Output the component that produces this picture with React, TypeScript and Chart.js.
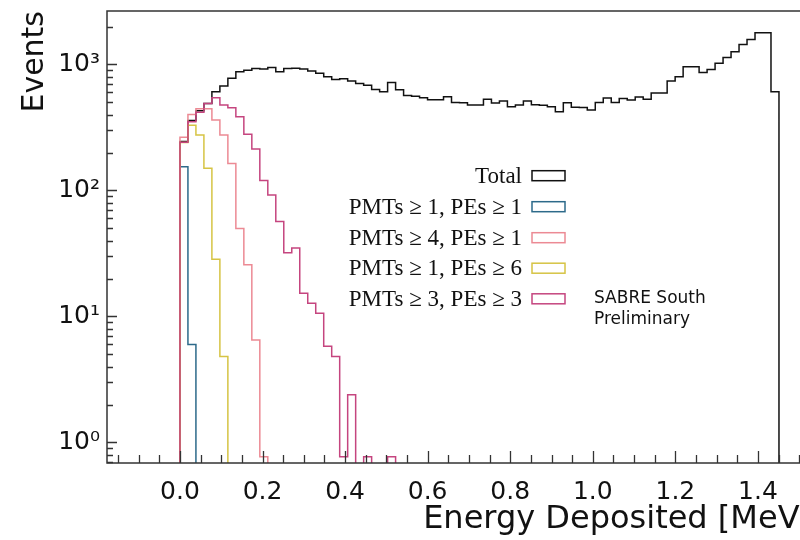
import React, { useEffect, useRef } from "react";
import { Chart, registerables } from "chart.js";

Chart.register(...registerables);

// ---- binning (common to all histograms) ----
const BIN_COUNT = 75;
const ENERGY_MAX = 1.451; // MeV, upper edge of last bin
const ZERO_FLOOR = 0.3; // empty bins are drawn down below the axis

// ---- axes ----
const X_MIN = -0.1767;
const X_MAX = 1.531;
const Y_MIN = 0.687;
const Y_MAX = 2657;
const xTickValues = [0, 0.2, 0.4, 0.6, 0.8, 1.0, 1.2, 1.4];
const yTickValues = [1, 10, 100, 1000];
const yTickLabels = ["10⁰", "10¹", "10²", "10³"];

// ---- series (counts per bin, starting at bin 0) ----
const totalCounts = [
  245, 360, 430, 491, 608, 674, 776, 875, 901, 930,
  919, 945, 875, 930, 935, 920, 888, 850, 798, 759,
  770, 740, 706, 685, 632, 608, 719, 631, 568, 560,
  545, 526, 526, 555, 499, 497, 476, 476, 530, 495,
  513, 462, 476, 513, 480, 475, 462, 422, 497, 458,
  455, 436, 500, 542, 500, 538, 522, 552, 530, 595,
  595, 740, 798, 959, 959, 865, 914, 1021, 1138, 1261,
  1443, 1581, 1783, 1783, 608,
];
const pmt1pe1Counts = [154, 6];
const pmt4pe1Counts = [265, 400, 445, 445, 362, 276, 164, 50, 25.7, 6.5, 0.77];
const pmt1pe6Counts = [240, 330, 276, 150, 28.5, 4.8];
const pmt3pe3Counts = [
  241, 351, 417, 491, 545, 476, 454, 385, 279, 213,
  120, 92, 56.7, 32, 35, 15.3, 12.75, 10.6, 5.8, 4.8,
  0.77, 2.39, 0, 0.77, 0, 0, 0.77,
];

const seriesLabels = [
  "Total",
  "PMTs ≥ 1, PEs ≥ 1",
  "PMTs ≥ 4, PEs ≥ 1",
  "PMTs ≥ 1, PEs ≥ 6",
  "PMTs ≥ 3, PEs ≥ 3",
];
const seriesColors = ["#111111", "#2d6a8a", "#ec8a94", "#d6c444", "#c5457f"];
const seriesCounts = [totalCounts, pmt1pe1Counts, pmt4pe1Counts, pmt1pe6Counts, pmt3pe3Counts];

const annotationLines = ["SABRE South", "Preliminary"];

function stepPoints(counts: number[]) {
  const w = ENERGY_MAX / BIN_COUNT;
  const pts: { x: number; y: number }[] = [{ x: 0, y: ZERO_FLOOR }];
  counts.forEach((c, i) => pts.push({ x: i * w, y: c > 0 ? c : ZERO_FLOOR }));
  pts.push({ x: counts.length * w, y: ZERO_FLOOR });
  return pts;
}

const decorPlugin = {
  id: "decor",
  afterDatasetsDraw(chart: any) {
    const { ctx } = chart;
    // legend (text right-aligned, box on the right)
    const rows = [175.7, 206.7, 237.7, 268.2, 298.8];
    ctx.save();
    ctx.font = '23px "Liberation Serif", "DejaVu Serif", serif';
    ctx.textAlign = "right";
    ctx.textBaseline = "middle";
    seriesLabels.forEach((lab, i) => {
      ctx.fillStyle = "#111";
      ctx.fillText(lab, 522, rows[i] + 1);
      ctx.strokeStyle = seriesColors[i];
      ctx.lineWidth = 1.5;
      ctx.strokeRect(532, rows[i] - 5, 33, 10);
    });
    ctx.font = '17px "DejaVu Sans", sans-serif';
    ctx.textAlign = "left";
    ctx.fillStyle = "#111";
    annotationLines.forEach((t, i) => ctx.fillText(t, 594, 299 + i * 21));
    ctx.restore();
  },
  afterDraw(chart: any) {
    const { ctx, chartArea, scales } = chart;
    const { left, right, top, bottom } = chartArea;
    const x = scales.x;
    const y = scales.y;
    ctx.save();
    ctx.strokeStyle = "#333";
    ctx.lineWidth = 1.3;
    ctx.beginPath();
    // x ticks every 0.05, major every 0.2 (inward)
    for (let k = -4; k <= 31; k++) {
      const v = k * 0.05;
      if (v < X_MIN || v > X_MAX) continue;
      const px = Math.round(x.getPixelForValue(v)) + 0.5;
      const major = k % 4 === 0;
      ctx.moveTo(px, bottom);
      ctx.lineTo(px, bottom - (major ? 12 : 8));
    }
    // y log ticks (inward)
    for (let e = -1; e <= 3; e++) {
      for (let m = 1; m <= 9; m++) {
        const v = m * Math.pow(10, e);
        if (v < Y_MIN || v > Y_MAX) continue;
        const py = Math.round(y.getPixelForValue(v)) + 0.5;
        ctx.moveTo(left, py);
        ctx.lineTo(left + (m === 1 ? 10 : 6), py);
      }
    }
    ctx.stroke();
    ctx.lineWidth = 1.5;
    ctx.strokeStyle = "#333";
    ctx.strokeRect(left, top, right - left, bottom - top);
    ctx.restore();
  },
};

export default function App() {
  const canvasRef = useRef<HTMLCanvasElement | null>(null);

  useEffect(() => {
    const canvas = canvasRef.current;
    if (!canvas) return;
    const datasets = seriesCounts.map((counts, i) => ({
      label: seriesLabels[i],
      data: stepPoints(counts),
      borderColor: seriesColors[i],
      backgroundColor: seriesColors[i],
      borderWidth: 1.5,
      pointRadius: 0,
      stepped: "before" as const,
      fill: false,
      tension: 0,
      order: seriesCounts.length - i,
    }));
    const chart = new Chart(canvas, {
      type: "line",
      data: { datasets },
      options: {
        animation: false,
        responsive: false,
        devicePixelRatio: 1,
        layout: { padding: { left: 0, top: 11, right: 18, bottom: 0 } },
        plugins: { legend: { display: false }, tooltip: { enabled: false } },
        scales: {
          x: {
            type: "linear",
            min: X_MIN,
            max: X_MAX,
            afterBuildTicks: (s: any) => {
              s.ticks = xTickValues.map((v) => ({ value: v }));
            },
            afterFit: (s: any) => {
              s.height = 77;
              s.paddingLeft = 0;
              s.paddingRight = 0;
            },
            ticks: {
              callback: (v: any) => Number(v).toFixed(1),
              font: { family: "DejaVu Sans", size: 25 },
              color: "#111",
              padding: 14,
              maxRotation: 0,
              autoSkip: false,
            },
            grid: { display: false, drawTicks: false },
            border: { display: false },
            title: {
              display: true,
              text: "Energy Deposited [MeV]",
              align: "end",
              color: "#111",
              font: { family: "DejaVu Sans", size: 32 },
              padding: { top: 0, bottom: 1 },
            },
          },
          y: {
            type: "logarithmic",
            min: Y_MIN,
            max: Y_MAX,
            afterBuildTicks: (s: any) => {
              s.ticks = yTickValues.map((v) => ({ value: v, major: true }));
            },
            afterFit: (s: any) => {
              s.width = 107;
              s.paddingTop = 0;
              s.paddingBottom = 0;
            },
            ticks: {
              callback: (_v: any, i: number) => yTickLabels[i],
              font: { family: "DejaVu Sans", size: 25 },
              color: "#111",
              padding: 7,
              autoSkip: false,
            },
            grid: { display: false, drawTicks: false },
            border: { display: false },
            title: {
              display: true,
              text: "Events",
              align: "end",
              color: "#111",
              font: { family: "DejaVu Sans", size: 30 },
              padding: { top: 17, bottom: 0 },
            },
          },
        },
      },
      plugins: [decorPlugin],
    });
    return () => chart.destroy();
  }, []);

  return (
    <div
      style={{
        position: "fixed",
        left: 0,
        top: 0,
        width: 800,
        height: 540,
        overflow: "hidden",
        background: "#fff",
      }}
    >
      <canvas ref={canvasRef} width={830} height={540} style={{ display: "block" }} />
    </div>
  );
}
